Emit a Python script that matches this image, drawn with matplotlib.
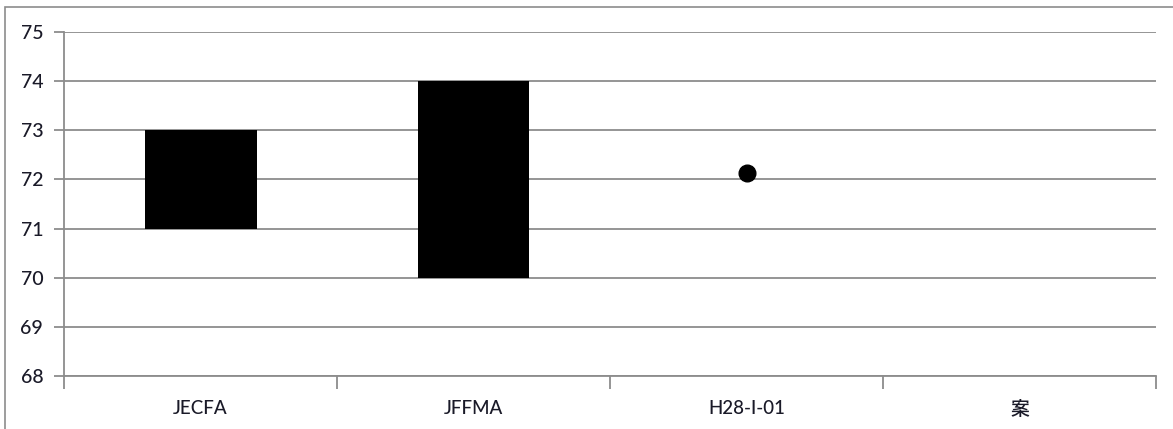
import matplotlib.pyplot as plt
from matplotlib.patches import Rectangle
import numpy as np

plt.rcParams["font.family"] = ["Lato", "Noto Sans CJK JP", "DejaVu Sans"]

# data
categories = ["JECFA", "JFFMA", "H28-I-01", "案"]
range_low = [71.0, 70.0, np.nan, np.nan]
range_high = [73.0, 74.0, np.nan, np.nan]
point_values = [np.nan, np.nan, 72.13, np.nan]
y_ticks = [68, 69, 70, 71, 72, 73, 74, 75]

grid_color = "#8c8c8c"
text_color = "#1a1a28"

fig = plt.figure(figsize=(11.73, 4.29), dpi=100)
ax = fig.add_axes([0.0546, 0.1235, 0.9309, 0.802])

x = np.arange(len(categories)) + 0.5
low = np.array(range_low)
high = np.array(range_high)
ax.bar(x, high - low, bottom=low, width=0.41, color="black", zorder=3)
ax.plot(x, point_values, "o", color="black", markersize=12, zorder=4)

ax.set_xlim(0, len(categories))
ax.set_ylim(y_ticks[0], y_ticks[-1])
ax.set_yticks(y_ticks)
ax.yaxis.grid(True, color=grid_color, linewidth=1.3)
ax.set_axisbelow(True)

# category boundaries get ticks, labels sit between them
ax.set_xticks(np.arange(len(categories) + 1))
ax.set_xticklabels([])
ax.set_xticks(x, minor=True)
ax.set_xticklabels(categories, minor=True)
ax.tick_params(axis="x", which="major", length=9, width=1.3, color=grid_color)
ax.tick_params(axis="x", which="minor", length=0, pad=17, labelsize=13.5,
               labelcolor=text_color)
ax.tick_params(axis="y", length=7, width=1.3, color=grid_color, pad=8,
               labelsize=14, labelcolor=text_color)
for lbl in ax.get_xticklabels(minor=True) + ax.get_yticklabels():
    lbl.set_fontweight("medium")

for side in ["top", "right"]:
    ax.spines[side].set_visible(False)
for side in ["left", "bottom"]:
    ax.spines[side].set_color(grid_color)
    ax.spines[side].set_linewidth(1.3)

# outer chart border
fig.patches.append(Rectangle((5 / 1173, -0.1), 1.2, 1 - 7 / 429 + 0.1,
                             transform=fig.transFigure, fill=False,
                             edgecolor="#8c8c8c", linewidth=1.2))

fig.savefig("out.png", dpi=100)
